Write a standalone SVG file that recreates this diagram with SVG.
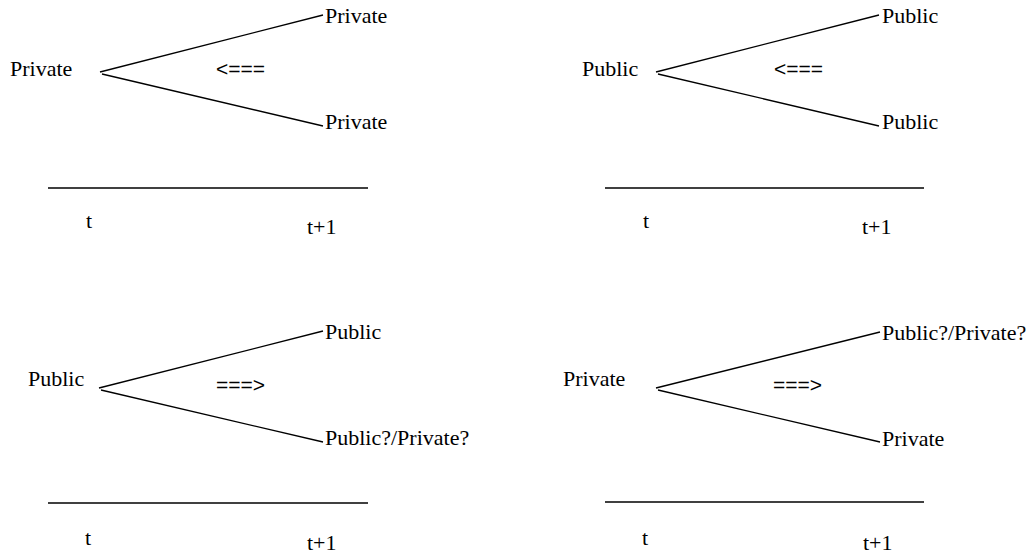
<svg xmlns="http://www.w3.org/2000/svg" width="1034" height="556" viewBox="0 0 1034 556">
<style>
.lbl{font-family:"Liberation Serif","Times New Roman",serif;font-size:22px;fill:#000}
.arr{font-family:"Liberation Sans",Arial,sans-serif;font-size:21px;fill:#000}
.edge{stroke:#000;stroke-width:1.3;fill:none}
</style>
<rect width="1034" height="556" fill="#fff"/>
<g id="connectors">
<line class="edge" x1="100" y1="72" x2="323" y2="15"/>
<line class="edge" x1="102" y1="74" x2="323" y2="126"/>
<line class="edge" x1="48" y1="188" x2="368" y2="188"/>
<line class="edge" x1="656" y1="72" x2="879" y2="15"/>
<line class="edge" x1="658" y1="74" x2="879" y2="126"/>
<line class="edge" x1="605" y1="188" x2="924" y2="188"/>
<line class="edge" x1="99" y1="388" x2="323" y2="331"/>
<line class="edge" x1="101" y1="390" x2="323" y2="442"/>
<line class="edge" x1="48" y1="503" x2="368" y2="503"/>
<line class="edge" x1="656" y1="388" x2="880" y2="332"/>
<line class="edge" x1="658" y1="390" x2="880" y2="442"/>
<line class="edge" x1="605" y1="502" x2="924" y2="502"/>
</g>
<g id="n1-root"><text class="lbl" x="10" y="76">Private</text></g>
<g id="n1-up"><text class="lbl" x="325" y="23">Private</text></g>
<g id="n1-down"><text class="lbl" x="325" y="129">Private</text></g>
<g id="n1-arrow"><text class="arr" x="216" y="76">&lt;===</text></g>
<g id="n1-t"><text class="lbl" x="86" y="228">t</text></g>
<g id="n1-t1"><text class="lbl" x="307" y="234">t+1</text></g>
<g id="n2-root"><text class="lbl" x="582" y="76">Public</text></g>
<g id="n2-up"><text class="lbl" x="882" y="23">Public</text></g>
<g id="n2-down"><text class="lbl" x="882" y="129">Public</text></g>
<g id="n2-arrow"><text class="arr" x="774" y="76">&lt;===</text></g>
<g id="n2-t"><text class="lbl" x="643" y="228">t</text></g>
<g id="n2-t1"><text class="lbl" x="862" y="234">t+1</text></g>
<g id="n3-root"><text class="lbl" x="28" y="386">Public</text></g>
<g id="n3-up"><text class="lbl" x="325" y="339">Public</text></g>
<g id="n3-down"><text class="lbl" x="325" y="445">Public?/Private?</text></g>
<g id="n3-arrow"><text class="arr" x="216" y="392">===&gt;</text></g>
<g id="n3-t"><text class="lbl" x="85" y="545">t</text></g>
<g id="n3-t1"><text class="lbl" x="307" y="550">t+1</text></g>
<g id="n4-root"><text class="lbl" x="563" y="386">Private</text></g>
<g id="n4-up"><text class="lbl" x="882" y="340">Public?/Private?</text></g>
<g id="n4-down"><text class="lbl" x="882" y="446">Private</text></g>
<g id="n4-arrow"><text class="arr" x="773" y="392">===&gt;</text></g>
<g id="n4-t"><text class="lbl" x="642" y="545">t</text></g>
<g id="n4-t1"><text class="lbl" x="863" y="550">t+1</text></g>
</svg>
